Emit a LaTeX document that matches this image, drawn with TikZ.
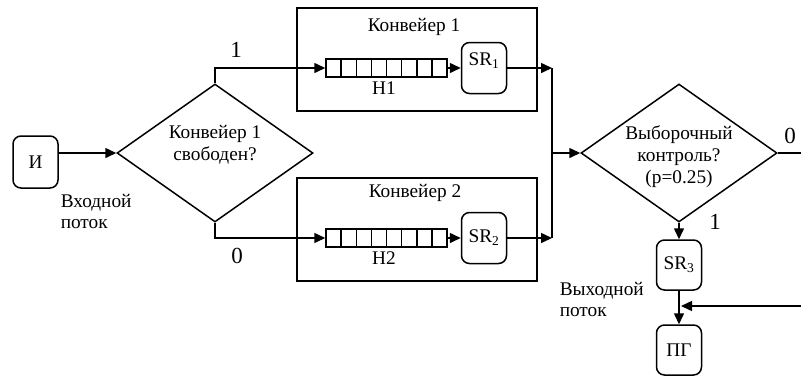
\documentclass[tikz,border=0pt]{standalone}
\usepackage{fontspec}
\setmainfont{Liberation Serif}
\usetikzlibrary{arrows.meta,shapes.geometric}
\begin{document}
\begin{tikzpicture}[x=1pt,y=-1pt,
  line width=1.5pt,
  every node/.style={font=\fontsize{19.3}{21.7}\selectfont},
  arr/.style={-{Triangle[length=11pt,width=10pt]}},
  rbox/.style={draw, rounded corners=8pt, minimum width=45pt, minimum height=51pt, inner sep=0pt},
  cbox/.style={draw, minimum width=240pt, minimum height=103pt, inner sep=0pt},
  diam/.style={draw, diamond, minimum width=196pt, minimum height=138pt, inner sep=0pt, aspect=1.42},
  txt/.style={inner sep=0pt, align=center},
  lbl/.style={inner sep=0pt, font=\fontsize{23}{26}\selectfont},
  queue/.style={draw, minimum width=121pt, minimum height=18pt, inner sep=0pt,
    path picture={\foreach \k in {1,...,7}{\draw[line width=1.5pt]
      ([xshift=\k*15.125pt]path picture bounding box.north west) --
      ([xshift=\k*15.125pt]path picture bounding box.south west);}}}
]
\useasboundingbox (0,0) rectangle (801,376);
% nodes
\node[rbox, minimum height=52pt] (I) at (35.5,162) {И};
\node[diam] (d1) at (215,153) {};
\node[txt] (d1t) at (215,144.5) {Конвейер 1\\свободен?};
\node[cbox] (C1) at (417,59.5) {};
\node[txt] (C1t) at (414,27) {Конвейер 1};
\node[queue] (q1) at (386.5,68) {};
\node[txt] (h1) at (384,88.5) {Н1};
\node[rbox, text depth=18pt] (SR1) at (484,68) {SR\textsubscript{1}};
\node[cbox] (C2) at (417,229.5) {};
\node[txt] (C2t) at (415,193) {Конвейер 2};
\node[queue] (q2) at (386.5,238) {};
\node[txt] (h2) at (384,258.5) {Н2};
\node[rbox] (SR2) at (484,238) {SR\textsubscript{2}};
\node[diam] (d2) at (679,153) {};
\node[txt] (d2t) at (679,156.5) {Выборочный\\контроль?\\(p=0.25)};
\node[rbox, minimum height=50pt] (SR3) at (679,265) {SR\textsubscript{3}};
\node[rbox, minimum height=50pt] (PG) at (679,350) {ПГ};
% free labels
\node[txt, align=left, anchor=west] (inlbl) at (60,211.5) {Входной\\поток};
\node[txt, align=left, anchor=west] (outlbl) at (559,299.5) {Выходной\\поток};
\node[lbl] (l1) at (236,50) {1};
\node[lbl] (l0) at (237,256) {0};
\node[lbl] (r0) at (790,136) {0};
\node[lbl] (r1) at (715,221.5) {1};
% coordinates
\coordinate (m1) at (552,68);
\coordinate (m2) at (552,238);
\coordinate (mm) at (552,153);
\coordinate (rout) at (801,153);
\coordinate (rin) at (801,306);
\coordinate (rj) at (681,306);
% connectors
\draw[arr] (I.east |- d1.west) -- (d1.west);
\draw[arr] (d1.north) |- (q1.west);
\draw[arr] (d1.south) |- (q2.west);
\draw[arr] (q1.east) -- (SR1.west);
\draw[arr] (q2.east) -- (SR2.west);
\draw[arr] (SR1.east) -- (m1);
\draw[arr] (SR2.east) -- (m2);
\draw (m1) -- (m2);
\draw[arr] (mm) -- (d2.west);
\draw (d2.east) -- (rout);
\draw[arr] (d2.south) -- (SR3.north);
\draw[arr] (SR3.south) -- (PG.north);
\draw[arr] (rin) -- (rj);
\end{tikzpicture}
\end{document}
